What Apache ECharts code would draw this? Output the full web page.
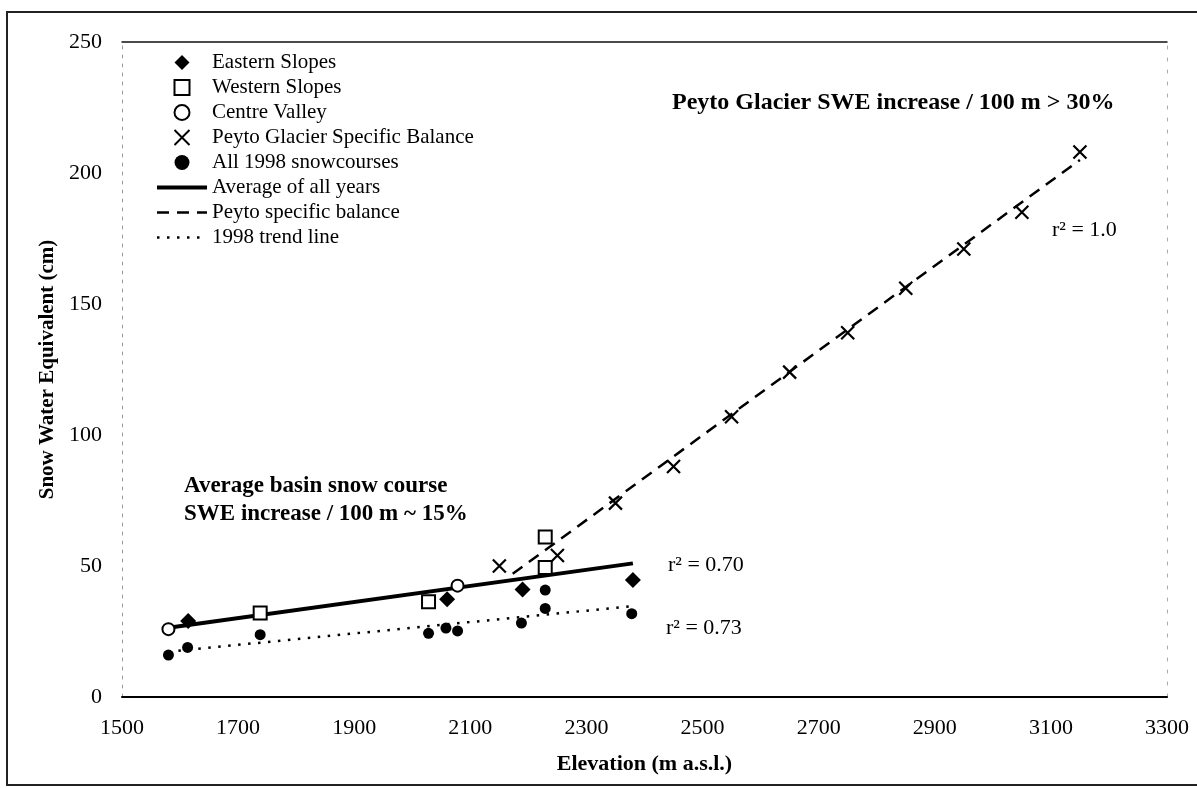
<!DOCTYPE html>
<html>
<head>
<meta charset="utf-8">
<script src="https://cdn.jsdelivr.net/npm/echarts@6/dist/echarts.min.js"></script>
<style>
  html, body { margin: 0; padding: 0; background: #fff; }
  #chart { width: 1197px; height: 788px; }
</style>
</head>
<body>
<div id="chart"></div>
<script>
// Snow course and glacier mass-balance SWE versus elevation
const FONT = '"Liberation Serif", "Times New Roman", serif';

// Axis ranges and tick steps
const xMin = 1500, xMax = 3300, xStep = 200;
const yMin = 0, yMax = 250, yStep = 50;

// Average SWE per snow course, [elevation m, SWE cm]
const easternSlopes = [[1614, 29.0], [2060, 37.3], [2190, 41.0], [2380, 44.7]];
const westernSlopes = [[1738, 32.1], [2028, 36.4], [2229, 61.1], [2229, 49.4]];
const centreValley = [[1580, 25.9], [2078, 42.5]];

// Peyto Glacier specific balance by 100 m band
const peytoElevation = [2150, 2250, 2350, 2450, 2550, 2650, 2750, 2850, 2950, 3050, 3150];
const peytoSwe = [50, 54, 74, 88, 107, 124, 139, 156, 171, 185, 208];

// 1998 snow survey
const snow1998 = [[1580, 16.0], [1613, 18.9], [1738, 23.8], [2028, 24.3], [2058, 26.3],
                  [2078, 25.2], [2188, 28.2], [2229, 33.8], [2229, 40.8], [2378, 31.8]];

// Fitted regression lines
const averageAllYears = [[1580, 26.4], [2380, 51.0]];
const peytoBalanceFit = [[2173, 47.0], [3150, 205.0]];
const trend1998 = [[1580, 17.3], [2380, 34.7]];

const names = {
  eastern: 'Eastern Slopes',
  western: 'Western Slopes',
  centre: 'Centre Valley',
  peyto: 'Peyto Glacier Specific Balance',
  snow98: 'All 1998 snowcourses',
  avg: 'Average of all years',
  peytoFit: 'Peyto specific balance',
  trend98: '1998 trend line'
};

const crossPath = 'path://M0,0L10,10M10,0L0,10';
const diamondPath = 'path://M5,0L10,5L5,10L0,5Z';
const squarePath = 'path://M0,0L10,0L10,10L0,10Z';
// line entries in the legend show only the stroke
const noMarker = { color: 'rgba(0,0,0,0)', borderColor: 'rgba(0,0,0,0)', borderWidth: 0 };

const chart = echarts.init(document.getElementById('chart'), null, { renderer: 'canvas' });

const hiddenAxis = {
  axisLabel: { show: false }, axisTick: { show: false }, splitLine: { show: false }
};

chart.setOption({
  backgroundColor: '#fff',
  animation: false,
  grid: { left: 122, right: 30, top: 42, bottom: 91 },
  xAxis: [
    {
      type: 'value', min: xMin, max: xMax, interval: xStep,
      axisLine: { show: true, onZero: false, lineStyle: { color: '#000', width: 2 } },
      axisTick: { show: false },
      splitLine: { show: false },
      axisLabel: { color: '#000', fontFamily: FONT, fontSize: 22, margin: 20,
                   formatter: v => String(v) },
      name: 'Elevation (m a.s.l.)',
      nameLocation: 'middle', nameGap: 56,
      nameTextStyle: { color: '#000', fontFamily: FONT, fontSize: 22, fontWeight: 'bold' }
    },
    Object.assign({
      type: 'value', position: 'top', min: xMin, max: xMax,
      axisLine: { show: true, onZero: false, lineStyle: { color: '#111', width: 1.5 } }
    }, hiddenAxis)
  ],
  yAxis: [
    {
      type: 'value', min: yMin, max: yMax, interval: yStep,
      axisLine: { show: true, onZero: false, lineStyle: { color: '#999', width: 1, type: [3, 6] } },
      axisTick: { show: false },
      splitLine: { show: false },
      axisLabel: { color: '#000', fontFamily: FONT, fontSize: 22, margin: 20,
                   formatter: v => String(v) },
      name: 'Snow Water Equivalent (cm)',
      nameLocation: 'middle', nameGap: 64,
      nameTextStyle: { color: '#000', fontFamily: FONT, fontSize: 21, fontWeight: 'bold' }
    },
    Object.assign({
      type: 'value', position: 'right', min: yMin, max: yMax,
      axisLine: { show: true, onZero: false, lineStyle: { color: '#aaa', width: 1, type: [3, 9] } }
    }, hiddenAxis)
  ],
  legend: {
    orient: 'vertical',
    left: 150, top: 47,
    itemWidth: 50, itemHeight: 15, itemGap: 4,
    textStyle: { color: '#000', fontFamily: FONT, fontSize: 21 },
    data: [
      { name: names.eastern, icon: diamondPath },
      { name: names.western, icon: squarePath },
      { name: names.centre },
      { name: names.peyto },
      { name: names.snow98 },
      { name: names.avg, itemStyle: noMarker, lineStyle: { width: 4 } },
      { name: names.peytoFit, itemStyle: noMarker, lineStyle: { width: 2.5 } },
      { name: names.trend98, itemStyle: noMarker, lineStyle: { width: 2.5 } }
    ]
  },
  graphic: [
    // outer figure frame
    { type: 'polyline', silent: true,
      shape: { points: [[1197, 12], [7, 12], [7, 785], [1197, 785]] },
      style: { stroke: '#222', lineWidth: 2, fill: null } },
    { type: 'text', left: 672, top: 91, silent: true,
      style: { text: 'Peyto Glacier SWE increase / 100 m > 30%', fill: '#000',
               font: 'bold 24px ' + FONT } },
    { type: 'text', left: 184, top: 472, silent: true,
      style: { text: 'Average basin snow course\nSWE increase / 100 m ~ 15%', fill: '#000',
               font: 'bold 23px ' + FONT, lineHeight: 28 } },
    { type: 'text', left: 1052, top: 219, silent: true,
      style: { text: 'r\u00B2 = 1.0', fill: '#000', font: '22px ' + FONT } },
    { type: 'text', left: 668, top: 554, silent: true,
      style: { text: 'r\u00B2 = 0.70', fill: '#000', font: '22px ' + FONT } },
    { type: 'text', left: 666, top: 617, silent: true,
      style: { text: 'r\u00B2 = 0.73', fill: '#000', font: '22px ' + FONT } }
  ],
  series: [
    {
      name: names.avg, type: 'line', data: averageAllYears,
      symbol: 'none', z: 3,
      lineStyle: { color: '#000', width: 4 }, itemStyle: { color: '#000' }
    },
    {
      name: names.peytoFit, type: 'line', data: peytoBalanceFit,
      symbol: 'none', z: 3,
      lineStyle: { color: '#000', width: 2.5, type: [12, 8] }, itemStyle: { color: '#000' }
    },
    {
      name: names.trend98, type: 'line', data: trend1998,
      symbol: 'none', z: 3,
      lineStyle: { color: '#000', width: 2.5, type: [2.5, 7.5] }, itemStyle: { color: '#000' }
    },
    {
      name: names.eastern, type: 'scatter', data: easternSlopes,
      symbol: 'diamond', symbolSize: 16, z: 4,
      itemStyle: { color: '#000', opacity: 1 }
    },
    {
      name: names.western, type: 'scatter', data: westernSlopes,
      symbol: 'rect', symbolSize: 13, z: 4,
      itemStyle: { color: '#fff', borderColor: '#000', borderWidth: 2, opacity: 1 }
    },
    {
      name: names.centre, type: 'scatter', data: centreValley,
      symbol: 'circle', symbolSize: 12, z: 4,
      itemStyle: { color: '#fff', borderColor: '#000', borderWidth: 2, opacity: 1 }
    },
    {
      name: names.peyto, type: 'scatter',
      data: peytoElevation.map((e, i) => [e, peytoSwe[i]]),
      symbol: crossPath, symbolSize: 13, z: 4,
      itemStyle: { color: 'none', borderColor: '#000', borderWidth: 2.2, opacity: 1 }
    },
    {
      name: names.snow98, type: 'scatter', data: snow1998,
      symbol: 'circle', symbolSize: 11, z: 4,
      itemStyle: { color: '#000', opacity: 1 }
    }
  ]
});
</script>
</body>
</html>
